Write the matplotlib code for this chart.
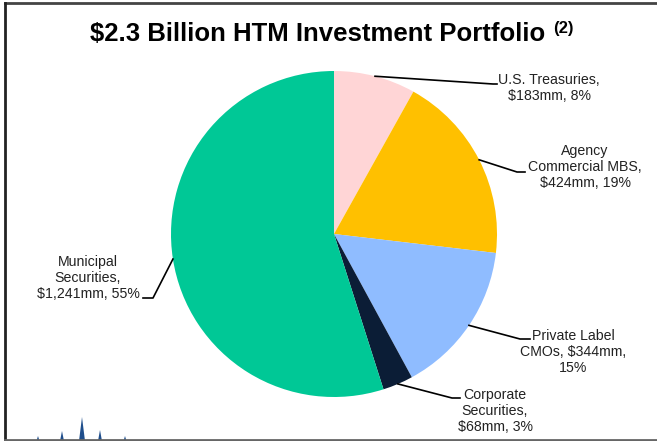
import numpy as np
import matplotlib.pyplot as plt
from matplotlib.lines import Line2D
from matplotlib.patches import Polygon

plt.rcParams['font.family'] = ['Liberation Sans', 'DejaVu Sans']

# HTM portfolio by type, $mm
categories = ["U.S. Treasuries", "Agency Commercial MBS", "Private Label CMOs",
              "Corporate Securities", "Municipal Securities"]
amounts = [183, 424, 344, 68, 1241]
percents = [8, 19, 15, 3, 55]
labels = ["U.S. Treasuries,\n$183mm, 8%",
          "Agency\nCommercial MBS,\n$424mm, 19%",
          "Private Label\nCMOs, $344mm,\n15%",
          "Corporate\nSecurities,\n$68mm, 3%",
          "Municipal\nSecurities,\n$1,241mm, 55%"]
colors = ["#FFD5D6", "#FFC000", "#8FBCFF", "#0B1D36", "#00C896"]

W, H = 657, 441
fig = plt.figure(figsize=(W / 100, H / 100), dpi=100)
ax = fig.add_axes([0, 0, 1, 1])

cx, cy, r = 334, H - 234, 163
wedges, _ = ax.pie(amounts, colors=colors, startangle=90, counterclock=False,
                   center=(cx, cy), radius=r, frame=True,
                   wedgeprops=dict(linewidth=0))
ax.set_xlim(0, W)
ax.set_ylim(0, H)
ax.set_aspect('equal')
ax.axis('off')

# leader elbow, elbow end and text centre for each label (pixels from top-left)
elbows = [(493, 84), (517, 172), (520, 339), (452, 398), (153, 298)]
ends = [(497, 84), (525, 172), (530, 339), (460, 398), (143, 298)]
text_pos = [(549, 88), (585, 167), (573, 352), (495, 411), (88, 278)]

for w, lab, el, en, tp in zip(wedges, labels, elbows, ends, text_pos):
    ang = np.deg2rad((w.theta1 + w.theta2) / 2)
    x0, y0 = cx + r * np.cos(ang), cy + r * np.sin(ang)
    ax.add_line(Line2D([x0, el[0], en[0]], [y0, H - el[1], H - en[1]],
                       color='black', lw=1.2))
    ax.text(tp[0], H - tp[1], lab, ha='center', va='center', fontsize=10.2,
            color='#222222', linespacing=1.15)

# title with footnote marker
title = ax.text(318, H - 34, "$2.3 Billion HTM Investment Portfolio",
                ha='center', va='center', fontsize=18.5, fontweight='bold')
fig.canvas.draw()
bb = title.get_window_extent()
ax.text(bb.x1 + 7, bb.y1 + 1, "(2)", ha='left', va='top',
        fontsize=12, fontweight='bold')

# slide frame
ax.add_line(Line2D([5, W], [H - 3, H - 3], color='#444444', lw=2))
ax.add_line(Line2D([5, 5], [H - 3, 1], color='#222222', lw=2))
ax.add_line(Line2D([5, W], [1.5, 1.5], color='#666666', lw=2))

# compass logo peeking in at the bottom
for sx, top, half in [(82, 417, 3), (62, 431, 2), (100, 430, 2), (38, 436, 1.5), (125, 436, 1.5)]:
    ax.add_patch(Polygon([(sx - half, 0), (sx, H - top), (sx + half, 0)],
                         closed=True, color='#1F4E8C', lw=0))

fig.savefig("out.png", dpi=100)
